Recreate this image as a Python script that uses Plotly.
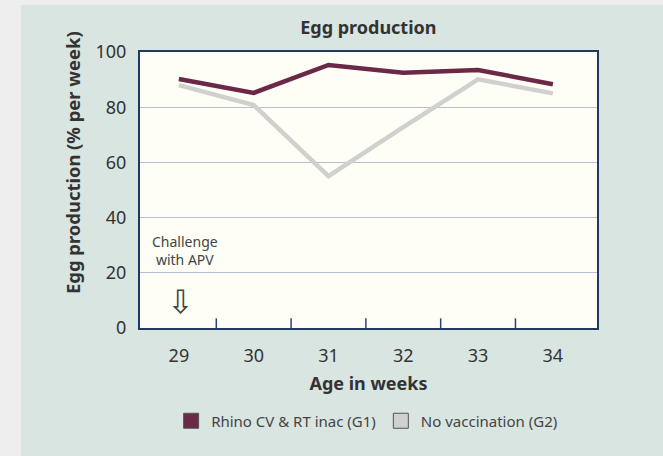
import plotly.graph_objects as go

weeks = [29, 30, 31, 32, 33, 34]
g1_values = [90.2, 85.2, 95.3, 92.5, 93.5, 88.3]
g2_values = [88.0, 80.8, 55.0, 72.8, 90.1, 85.0]
g1_name = "Rhino CV & RT inac (G1)"
g2_name = "No vaccination (G2)"
y_ticks = [0, 20, 40, 60, 80, 100]
minor_ticks = [29.5, 30.5, 31.5, 32.5, 33.5]

G1_COLOR = "#6b2947"
G2_COLOR = "#d0d0ce"
FONT = "Noto Sans"
TXT = "#333333"

fig = go.Figure()
fig.add_trace(go.Scatter(x=weeks, y=g1_values, mode="lines",
                         line=dict(color=G1_COLOR, width=4.5), showlegend=False))
fig.add_trace(go.Scatter(x=weeks, y=g2_values, mode="lines",
                         line=dict(color=G2_COLOR, width=4.5), showlegend=False))
# legend entries as squares
fig.add_trace(go.Scatter(x=[None], y=[None], mode="markers", name=g1_name,
                         marker=dict(symbol="square", size=15, color=G1_COLOR,
                                     line=dict(color="#555555", width=1))))
fig.add_trace(go.Scatter(x=[None], y=[None], mode="markers", name=g2_name,
                         marker=dict(symbol="square", size=15, color=G2_COLOR,
                                     line=dict(color="#555555", width=1))))

# page strips outside the mint panel (left and top)
fig.add_shape(type="rect", xref="paper", yref="paper",
              x0=-0.4, x1=-0.2604, y0=-0.6, y1=1.3,
              fillcolor="#eeeeee", line=dict(width=0), layer="below")
fig.add_shape(type="rect", xref="paper", yref="paper",
              x0=-0.4, x1=1.3, y0=1.170, y1=1.3,
              fillcolor="#eeeeee", line=dict(width=0), layer="below")

# inner minor ticks between categories
for t in minor_ticks:
    fig.add_shape(type="line", xref="x", yref="paper", x0=t, x1=t, y0=0, y1=0.035,
                  line=dict(color="#2a4570", width=1.5))

fig.add_annotation(x=29.08, y=28, xref="x", yref="y", text="Challenge<br>with APV",
                   showarrow=False, font=dict(family=FONT, size=14, color="#444444"),
                   align="center")
fig.add_annotation(x=29.02, y=9.5, xref="x", yref="y", text="⇩",
                   showarrow=False, font=dict(family="DejaVu Sans", size=32, color="#444444"))

# y-axis title (placed as in the reference, above plot centre)
fig.add_annotation(x=-0.1466, y=0.598, xref="paper", yref="paper",
                   text="<b>Egg production (% per week)</b>", textangle=-90,
                   showarrow=False, xanchor="center", yanchor="middle",
                   font=dict(family=FONT, size=18.4, color=TXT))

fig.update_layout(
    width=663, height=456,
    margin=dict(l=140, r=66, t=52, b=128),
    paper_bgcolor="#d9e5e0",
    plot_bgcolor="#fefef6",
    title=dict(text="<b>Egg production</b>", x=0.5556, xanchor="center", y=0.94,
               yanchor="middle", font=dict(family=FONT, size=18, color=TXT)),
    font=dict(family=FONT, size=18, color=TXT),
    xaxis=dict(range=[28.48, 34.59], tickmode="array", tickvals=weeks,
               ticks="", showgrid=False, zeroline=False,
               showline=True, linecolor="#1f3a60", linewidth=2, mirror=True,
               ticklabelstandoff=10,
               title=dict(text="<b>Age in weeks</b>", standoff=12,
                          font=dict(family=FONT, size=18, color=TXT))),
    yaxis=dict(range=[0, 100], tickmode="array", tickvals=y_ticks,
               ticks="", showgrid=True, gridcolor="#b9bcd6", gridwidth=1,
               zeroline=False, showline=True, linecolor="#1f3a60", linewidth=2,
               mirror=True, ticklabelstandoff=8),
    legend=dict(orientation="h", x=0.497, xanchor="center", y=-0.337, yanchor="middle",
                bgcolor="rgba(0,0,0,0)", font=dict(family=FONT, size=15, color="#444444"),
                itemwidth=30),
)

fig.write_html("out.html", config={"displayModeBar": False},
               post_script="document.body.style.margin='0';document.body.style.padding='0';")
